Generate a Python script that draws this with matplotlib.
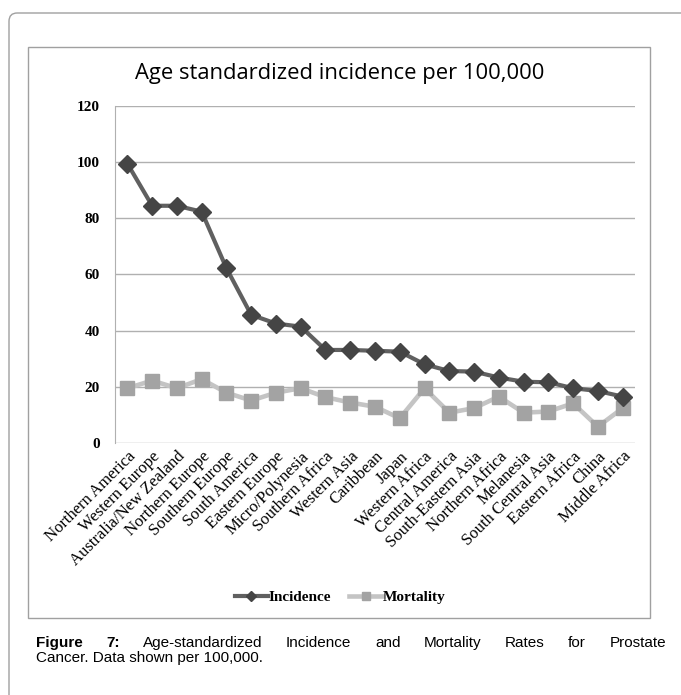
import matplotlib
matplotlib.use('Agg')
import matplotlib.pyplot as plt
from matplotlib.patches import FancyBboxPatch, Rectangle

regions = ['Northern America', 'Western Europe', 'Australia/New Zealand',
           'Northern Europe', 'Southern Europe', 'South America',
           'Eastern Europe', 'Micro/Polynesia', 'Southern Africa',
           'Western Asia', 'Caribbean', 'Japan', 'Western Africa',
           'Central America', 'South-Eastern Asia', 'Northern Africa',
           'Melanesia', 'South Central Asia', 'Eastern Africa', 'China',
           'Middle Africa']
incidence = [99.4, 84.4, 84.4, 82.3, 62.2, 45.6, 42.5, 41.4, 33.1, 33.1,
             32.8, 32.5, 28.0, 25.6, 25.4, 23.3, 21.8, 21.6, 19.5, 18.5, 16.5]
mortality = [19.5, 22.2, 19.5, 22.7, 17.9, 15.1, 17.9, 19.5, 16.3, 14.4,
             12.9, 8.8, 19.5, 10.8, 12.4, 16.5, 10.8, 11.2, 14.1, 5.8, 12.4]
y_ticks = [0, 20, 40, 60, 80, 100, 120]

W, H = 681, 695
fig = plt.figure(figsize=(W / 100, H / 100), dpi=100)


def px(x0, y0, x1, y1):
    'Pixel box (top-left origin) to figure fraction rect.'
    return [x0 / W, 1 - y1 / H, (x1 - x0) / W, (y1 - y0) / H]


# outer page frame and the chart box
fig.patches.append(FancyBboxPatch(
    (9 / W, -0.05), 1.0, 1 - 13 / H + 0.05,
    boxstyle='round,pad=0,rounding_size=0.012', transform=fig.transFigure,
    fill=False, ec='#a0a0a0', lw=1.0))
fig.patches.append(Rectangle(
    (28 / W, 1 - 618 / H), (650 - 28) / W, (618 - 47) / H,
    transform=fig.transFigure, fill=False, ec='#a0a0a0', lw=1.0))

ax = fig.add_axes(px(115, 105.7, 635, 443))
xs = range(len(regions))
ax.plot(xs, mortality, color='#c4c4c4', lw=3.3, marker='s', ms=10.5,
        mfc='#a3a3a3', mec='#a3a3a3', label='Mortality', zorder=3)
ax.plot(xs, incidence, color='#606060', lw=3.0, marker='D', ms=9,
        mfc='#454545', mec='#454545', label='Incidence', zorder=4)

ax.set_xlim(-0.5, len(regions) - 0.5)
ax.set_ylim(0, 120)
ax.set_yticks(y_ticks)
ax.set_yticklabels([str(t) for t in y_ticks], fontfamily='Liberation Serif',
                   fontweight='bold', fontsize=11)
ax.set_xticks(list(xs))
ax.set_xticklabels(regions, fontfamily='Liberation Serif', fontsize=12,
                   rotation=45, ha='right', rotation_mode='anchor')
ax.tick_params(axis='both', length=0)
ax.tick_params(axis='y', pad=11)
ax.tick_params(axis='x', pad=4)
ax.grid(axis='y', color='#b0b0b0', lw=1.0)
ax.set_axisbelow(True)
for side in ['top', 'right', 'bottom']:
    ax.spines[side].set_visible(False)
ax.spines['left'].set_color('#b0b0b0')

fig.text(340 / W, 1 - 73 / H, 'Age standardized incidence per 100,000',
         ha='center', va='center', fontfamily='Open Sans', fontsize=15.8)

handles, labels = ax.get_legend_handles_labels()
fig.legend(handles[::-1], labels[::-1], loc='center',
           bbox_to_anchor=(340 / W, 1 - 597 / H), ncol=2, frameon=False,
           prop={'family': 'Liberation Serif', 'weight': 'bold', 'size': 11},
           handlelength=2.2, handletextpad=0.0, columnspacing=1.2,
           markerscale=0.55)

# caption, first line justified word by word
cap_font = {'family': 'Liberation Sans', 'size': 11}
line1 = [('Figure', 'bold'), ('7:', 'bold'), ('Age-standardized', 'normal'),
         ('Incidence', 'normal'), ('and', 'normal'), ('Mortality', 'normal'),
         ('Rates', 'normal'), ('for', 'normal'), ('Prostate', 'normal')]
x_left, x_right, y1, y2 = 36, 666, 643, 658
renderer = fig.canvas.get_renderer()
words = []
for word, weight in line1:
    t = fig.text(0, 1 - y1 / H, word, ha='left', va='center',
                 fontweight=weight, **cap_font)
    words.append(t)
widths = [t.get_window_extent(renderer).width for t in words]
gap = (x_right - x_left - sum(widths)) / (len(words) - 1)
x = x_left
for t, w in zip(words, widths):
    t.set_x(x / W)
    x += w + gap
fig.text(x_left / W, 1 - y2 / H, 'Cancer. Data shown per 100,000.',
         ha='left', va='center', **cap_font)

fig.savefig('out.png', dpi=100)
